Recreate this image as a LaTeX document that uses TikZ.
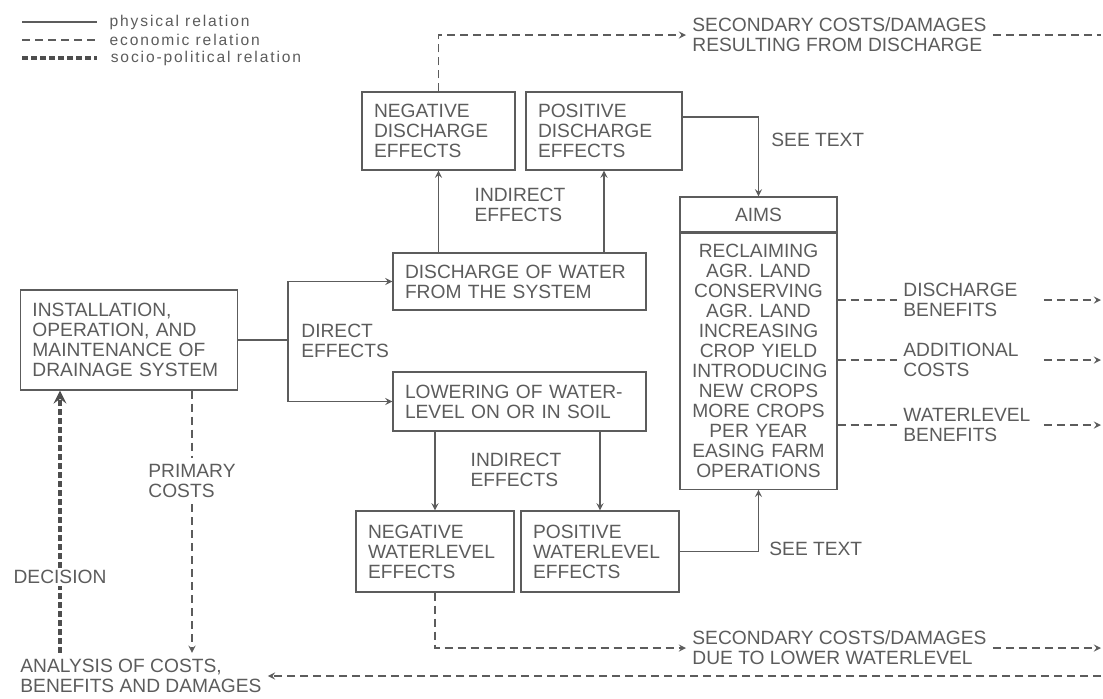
\documentclass[tikz,border=0pt]{standalone}
\usepackage{fontspec}
\setmainfont{Liberation Sans}
\usetikzlibrary{positioning}
\definecolor{ink}{gray}{0.36}
\newcommand{\lblfont}{\fontsize{9.6}{10}\selectfont}
\newcommand{\keyfont}{\fontsize{7.8}{8}\selectfont\addfontfeature{LetterSpace=12}}

\begin{document}
\begin{tikzpicture}[x=0.5pt, y=-0.5pt, >=stealth, every node/.style={text=ink, font=\lblfont}]
    % Define styles
    \tikzstyle{box} = [rectangle, draw=ink, line width=0.6pt, inner xsep=6pt, inner ysep=2pt, align=left]
    \tikzstyle{lbl} = [inner sep=3pt, align=left]
    \tikzstyle{keylbl} = [inner sep=0pt, font=\keyfont, anchor=west]
    \tikzstyle{phys} = [draw=ink, line width=0.6pt]
    \tikzstyle{econ} = [draw=ink, line width=0.6pt, dash pattern=on 4pt off 2.5pt]
    \tikzstyle{socio} = [draw=ink!85!black, line width=1.8pt, dash pattern=on 3pt off 1.5pt]

    \useasboundingbox (0,0) rectangle (1103,698);
    \coordinate (edge) at (1101,0);

    % Legend
    \draw [phys] (22,22) -- (97,22) node [keylbl, xshift=6pt] {physical relation};
    \draw [econ] (22,40) -- (97,40) node [keylbl, xshift=6pt] {economic relation};
    \draw [socio] (22,58) -- (97,58) node [keylbl, xshift=6pt] {socio-political relation};

    % Place nodes
    \node (install) [box, text width=96.5pt, minimum height=50pt] at (129,340) {INSTALLATION,\\OPERATION, AND\\MAINTENANCE OF\\DRAINAGE SYSTEM};
    \node (discharge) [box, text width=114.5pt, minimum height=28.5pt] at (519.5,281.5) {DISCHARGE OF WATER\\FROM THE SYSTEM};
    \node (lowering) [box, text width=114.5pt, minimum height=29.5pt] at (519.5,401.5) {LOWERING OF WATER-\\LEVEL ON OR IN SOIL};
    \node (negdis) [box, text width=64.5pt, minimum height=39pt] at (438.5,131) {NEGATIVE\\DISCHARGE\\EFFECTS};
    \node (posdis) [box, text width=66pt, minimum height=39pt] at (604,131) {POSITIVE\\DISCHARGE\\EFFECTS};
    \node (negwl) [box, text width=67pt, minimum height=40.5pt] at (435,551.5) {NEGATIVE\\WATERLEVEL\\EFFECTS};
    \node (poswl) [box, text width=67pt, minimum height=40.5pt] at (600,551.5) {POSITIVE\\WATERLEVEL\\EFFECTS};
    \node (aimshead) [box, align=center, text width=66.5pt, minimum height=17.5pt] at (758.5,214.5) {AIMS};
    \node (aims) [box, align=center, text width=66.5pt, minimum height=128pt, below=0pt of aimshead] {RECLAIMING\\AGR. LAND\\CONSERVING\\AGR. LAND\\INCREASING\\CROP YIELD\\INTRODUCING\\NEW CROPS\\MORE CROPS\\PER YEAR\\EASING FARM\\OPERATIONS};

    % Labels
    \node (direct) [lbl, anchor=west] at (295,341) {DIRECT\\EFFECTS};
    \node (indup) [lbl] at (520,205) {INDIRECT\\EFFECTS};
    \node (inddown) [lbl] at (516,470) {INDIRECT\\EFFECTS};
    \node (seetop) [lbl, anchor=west] at (765,140) {SEE TEXT};
    \node (seebot) [lbl, anchor=west] at (763,549) {SEE TEXT};
    \node (secdis) [lbl, anchor=west] at (686,35) {SECONDARY COSTS/DAMAGES\\RESULTING FROM DISCHARGE};
    \node (secwl) [lbl, anchor=west] at (686,648) {SECONDARY COSTS/DAMAGES\\DUE TO LOWER WATERLEVEL};
    \node (disben) [lbl, anchor=west, text width=67pt] at (897,300) {DISCHARGE\\BENEFITS};
    \node (addcost) [lbl, anchor=west, text width=67pt] at (897,360) {ADDITIONAL\\COSTS};
    \node (wlben) [lbl, anchor=west, text width=67pt] at (897,425) {WATERLEVEL\\BENEFITS};
    \node (analysis) [lbl, anchor=west] at (14,676) {ANALYSIS OF COSTS,\\BENEFITS AND DAMAGES};
    \node (decision) [lbl, inner sep=1pt] at (60,577) {DECISION};
    \node (primary) [lbl] at (192,481) {PRIMARY\\COSTS};

    % Physical relations
    \coordinate (fork) at (288,340);
    \draw [phys] (install.east) -- (fork);
    \draw [phys,->] (fork) |- (discharge.west);
    \draw [phys,->] (fork) |- (lowering.west);
    \draw [phys,->] (discharge.north -| negdis.south) -- (negdis.south);
    \draw [phys,->] (discharge.north -| posdis.south) -- (posdis.south);
    \draw [phys,->] (lowering.south -| negwl.north) -- (negwl.north);
    \draw [phys,->] (lowering.south -| poswl.north) -- (poswl.north);
    \draw [phys,->] ([yshift=7pt]posdis.east) -| (aimshead.north);
    \draw [phys,->] (poswl.east) -| (aims.south);

    % Economic relations
    \draw [econ,->] (negdis.north) |- (secdis.west);
    \draw [econ] (secdis.east) -- (secdis.east -| edge);
    \draw [econ,->] (negwl.south) |- (secwl.west);
    \draw [econ,->] (secwl.east) -- (secwl.east -| edge);
    \draw [econ] (aims.east |- disben.west) -- (disben.west);
    \draw [econ,->] (disben.east) -- (disben.east -| edge);
    \draw [econ] (aims.east |- addcost.west) -- (addcost.west);
    \draw [econ,->] (addcost.east) -- (addcost.east -| edge);
    \draw [econ] (aims.east |- wlben.west) -- (wlben.west);
    \draw [econ,->] (wlben.east) -- (wlben.east -| edge);
    \draw [econ,->] (analysis.east -| edge) -- (analysis.east);
    \draw [econ] (install.south -| primary) -- (primary.north);
    \draw [econ,->] (primary.south) -- (primary.south |- analysis.north);

    % Socio-political relation
    \draw [socio] (analysis.north -| decision) -- (decision.south);
    \draw [socio,->] (decision.north) -- (decision.north |- install.south);
\end{tikzpicture}
\end{document}
